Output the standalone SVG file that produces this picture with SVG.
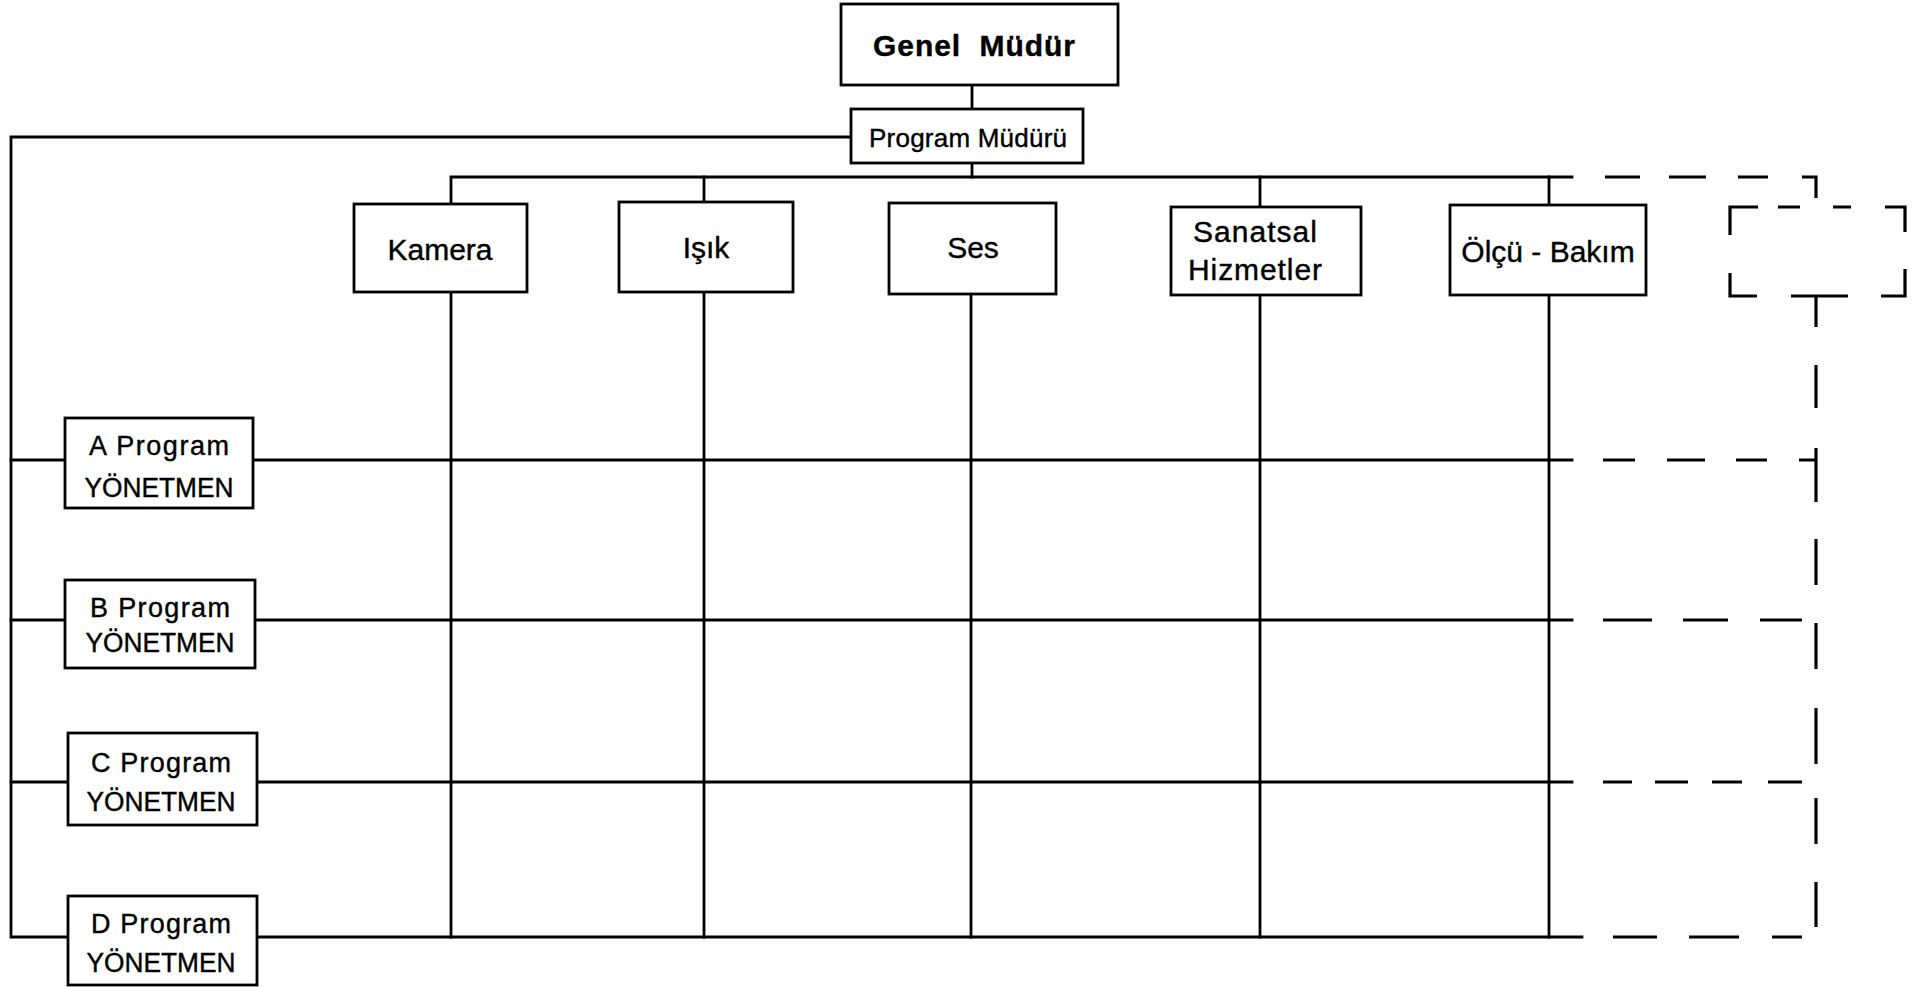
<svg xmlns="http://www.w3.org/2000/svg" width="1920" height="987" viewBox="0 0 1920 987">
  <style>
    .box { fill: #ffffff; stroke: #000000; stroke-width: 2.8; }
    .ln { fill: none; stroke: #000000; stroke-width: 2.8; stroke-linecap: square; }
    .dash { fill: none; stroke: #000000; stroke-width: 3.2; stroke-linecap: butt; }
    text { font-family: "Liberation Sans", Arial, Helvetica, sans-serif; fill: #000000; stroke: #000000; stroke-width: 0.4; text-anchor: middle; }
    .t30 { font-size: 30px; }
    .t27 { font-size: 27px; }
    .t26 { font-size: 26px; }
    .head { font-size: 30px; font-weight: bold; }
  </style>
  <rect width="1920" height="987" fill="#ffffff"/>

  <!-- connectors -->
  <g id="connectors">
    <!-- general manager to program manager -->
    <path class="ln" d="M972,85 V109"/>
    <path class="ln" d="M972,163 V177"/>
    <!-- program manager to the directors' trunk -->
    <path class="ln" d="M851,137 H11 V937 H66"/>
    <path class="ln" d="M11,460 H65"/>
    <path class="ln" d="M11,620 H65"/>
    <path class="ln" d="M11,782 H68"/>
    <!-- department bus -->
    <path class="ln" d="M451,204 V177 H1572"/>
    <path class="ln" d="M704,177 V202"/>
    <path class="ln" d="M1260,177 V207"/>
    <path class="ln" d="M1549,177 V205"/>
    <!-- department columns -->
    <path class="ln" d="M451,292 V937"/>
    <path class="ln" d="M704,292 V937"/>
    <path class="ln" d="M971,294 V937"/>
    <path class="ln" d="M1260,295 V937"/>
    <path class="ln" d="M1549,295 V937"/>
    <!-- director rows -->
    <path class="ln" d="M253,460 H1572"/>
    <path class="ln" d="M255,620 H1572"/>
    <path class="ln" d="M257,782 H1572"/>
    <path class="ln" d="M257,937 H1582"/>

    <!-- open (future) unit, dashed -->
    <g id="future-links">
      <path class="dash" d="M1605,177 H1640 M1669,177 H1706 M1738,177 H1768"/>
      <path class="dash" d="M1802,177 H1816 V198"/>
      <path class="dash" d="M1816,296 V327 M1816,365 V408"/>
      <path class="dash" d="M1816,448 V502 M1816,539 V585 M1816,623 V669 M1816,708 V764 M1816,798 V844 M1816,882 V927"/>
      <path class="dash" d="M1603,460 H1635 M1667,460 H1705 M1736,460 H1767 M1799,460 H1816"/>
      <path class="dash" d="M1603,620 H1652 M1683,620 H1728 M1760,620 H1802"/>
      <path class="dash" d="M1603,782 H1632 M1655,782 H1688 M1712,782 H1742 M1768,782 H1802"/>
      <path class="dash" d="M1613,937 H1657 M1689,937 H1739 M1772,937 H1802"/>
    </g>
  </g>

  <!-- top management -->
  <g id="genel-mudur">
    <rect class="box" x="841" y="4" width="277" height="81"/>
    <text class="head" x="974" y="56" xml:space="preserve" textLength="202" lengthAdjust="spacing">Genel  Müdür</text>
  </g>
  <g id="program-muduru">
    <rect class="box" x="851" y="109" width="232" height="54"/>
    <text class="t26" x="968" y="147" textLength="198" lengthAdjust="spacing">Program Müdürü</text>
  </g>

  <!-- departments -->
  <g id="kamera">
    <rect class="box" x="354" y="204" width="173" height="88"/>
    <text class="t30" x="440" y="260">Kamera</text>
  </g>
  <g id="isik">
    <rect class="box" x="619" y="202" width="174" height="90"/>
    <text class="t30" x="706" y="258">Işık</text>
  </g>
  <g id="ses">
    <rect class="box" x="889" y="203" width="167" height="91"/>
    <text class="t30" x="973" y="258">Ses</text>
  </g>
  <g id="sanatsal-hizmetler">
    <rect class="box" x="1171" y="207" width="190" height="88"/>
    <text class="t30" x="1255" y="242" textLength="124" lengthAdjust="spacing">Sanatsal</text>
    <text class="t30" x="1255" y="280" textLength="134" lengthAdjust="spacing">Hizmetler</text>
  </g>
  <g id="olcu-bakim">
    <rect class="box" x="1450" y="205" width="196" height="90"/>
    <text class="t30" x="1548" y="262">Ölçü - Bakım</text>
  </g>
  <g id="bos-birim">
    <path class="dash" d="M1730,235 V207 H1758 M1778,207 H1800 M1833,207 H1851 M1885,207 H1905 V232"/>
    <path class="dash" d="M1730,273 V296 H1757 M1791,296 H1848 M1881,296 H1905 V269"/>
  </g>

  <!-- program directors -->
  <g id="a-program">
    <rect class="box" x="65" y="418" width="188" height="90"/>
    <text class="t27" x="159" y="455" textLength="140" lengthAdjust="spacing">A Program</text>
    <text class="t27" x="159" y="497" textLength="149" lengthAdjust="spacingAndGlyphs">YÖNETMEN</text>
  </g>
  <g id="b-program">
    <rect class="box" x="65" y="580" width="190" height="88"/>
    <text class="t27" x="160" y="617" textLength="140" lengthAdjust="spacing">B Program</text>
    <text class="t27" x="160" y="652" textLength="149" lengthAdjust="spacingAndGlyphs">YÖNETMEN</text>
  </g>
  <g id="c-program">
    <rect class="box" x="68" y="733" width="189" height="92"/>
    <text class="t27" x="161" y="772" textLength="140" lengthAdjust="spacing">C Program</text>
    <text class="t27" x="161" y="811" textLength="149" lengthAdjust="spacingAndGlyphs">YÖNETMEN</text>
  </g>
  <g id="d-program">
    <rect class="box" x="68" y="896" width="189" height="89"/>
    <text class="t27" x="161" y="933" textLength="140" lengthAdjust="spacing">D Program</text>
    <text class="t27" x="161" y="972" textLength="149" lengthAdjust="spacingAndGlyphs">YÖNETMEN</text>
  </g>
</svg>
